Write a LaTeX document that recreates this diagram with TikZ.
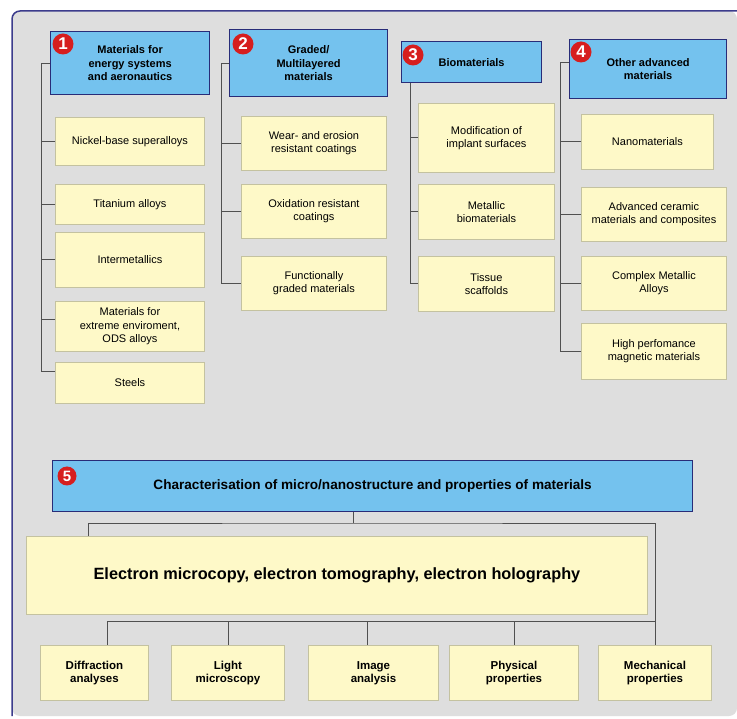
\documentclass[tikz,border=0pt]{standalone}
\usepackage{fontspec}
\setmainfont{Liberation Sans}
\usepackage{tikz}
\usetikzlibrary{positioning}
\definecolor{headblue}{RGB}{116,194,238}
\definecolor{headedge}{RGB}{40,44,120}
\definecolor{leafyellow}{RGB}{254,249,200}
\definecolor{leafedge}{RGB}{196,194,160}
\definecolor{framegray}{RGB}{222,222,222}
\definecolor{framenavy}{RGB}{60,60,140}
\definecolor{badgered}{RGB}{214,30,30}
\definecolor{linegray}{RGB}{80,80,80}

\begin{document}
\begin{tikzpicture}[x=1pt,y=-1pt,
  head/.style={draw=headedge,line width=1.2pt,fill=headblue,anchor=north west,align=center,inner sep=2pt,font=\fontsize{11}{13.5}\selectfont\bfseries},
  leaf/.style={draw=leafedge,line width=0.9pt,fill=leafyellow,anchor=north west,align=center,inner sep=2pt,font=\fontsize{11}{13.3}\selectfont},
  tool/.style={leaf,font=\fontsize{11.5}{13}\selectfont\bfseries},
  badge/.style={circle,fill=badgered,text=white,inner sep=0pt,minimum size=21pt,font=\fontsize{17}{17}\selectfont\bfseries},
  branch/.style={draw=linegray,line width=0.9pt}]
\useasboundingbox (0,0) rectangle (737,719);
\fill[white] (0,0) rectangle (737,719);
\fill[framegray,rounded corners=8pt] (12,11) rectangle (737,716);
\draw[framenavy,line width=1.5pt,rounded corners=8pt] (12,716) -- (12,11) -- (737,11);

\node[head,minimum width=159pt,minimum height=63pt] (h1) at (50,31) {Materials for\\energy systems\\and aeronautics};
\node[head,minimum width=158pt,minimum height=67pt] (h2) at (229,29) {Graded/\\Multilayered\\materials};
\node[head,minimum width=140pt,minimum height=41pt] (h3) at (401,41) {Biomaterials};
\node[head,minimum width=157pt,minimum height=59pt] (h4) at (569,39) {Other advanced\\materials};
\node[badge] (b1) at (63,44) {1};
\node[badge] (b2) at (243,44) {2};
\node[badge] (b3) at (413,55) {3};
\node[badge] (b4) at (581,52) {4};

\node[leaf,minimum width=149pt,minimum height=48pt] (n11) at (55,117) {Nickel-base superalloys};
\node[leaf,minimum width=149pt,minimum height=40pt] (n12) at (55,184) {Titanium alloys};
\node[leaf,minimum width=149pt,minimum height=55pt] (n13) at (55,232) {Intermetallics};
\node[leaf,minimum width=149pt,minimum height=50pt] (n14) at (55,301) {Materials for\\extreme enviroment,\\ODS alloys};
\node[leaf,minimum width=149pt,minimum height=41pt] (n15) at (55,362) {Steels};

\node[leaf,minimum width=145pt,minimum height=54pt] (n21) at (241,116) {Wear- and erosion\\resistant coatings};
\node[leaf,minimum width=145pt,minimum height=54pt] (n22) at (241,184) {Oxidation resistant\\coatings};
\node[leaf,minimum width=145pt,minimum height=54pt] (n23) at (241,256) {Functionally\\graded materials};

\node[leaf,minimum width=136pt,minimum height=69pt] (n31) at (418,103) {Modification of\\implant surfaces};
\node[leaf,minimum width=136pt,minimum height=55pt] (n32) at (418,184) {Metallic\\biomaterials};
\node[leaf,minimum width=136pt,minimum height=55pt] (n33) at (418,256) {Tissue\\scaffolds};

\node[leaf,minimum width=132pt,minimum height=55pt] (n41) at (581,114) {Nanomaterials};
\node[leaf,minimum width=145pt,minimum height=54pt] (n42) at (581,187) {Advanced ceramic\\materials and composites};
\node[leaf,minimum width=145pt,minimum height=54pt] (n43) at (581,256) {Complex Metallic\\Alloys};
\node[leaf,minimum width=145pt,minimum height=56pt] (n44) at (581,323) {High perfomance\\magnetic materials};

\draw[branch] (h1.west) -- ++(-9,0) |- ([yshift=11pt]n15.west);
\foreach \n in {n11,n12,n13} \draw[branch] (\n.west) -- ++(-14,0);
\draw[branch] ([yshift=7pt]n14.west) -- ++(-14,0);

\draw[branch] (h2.west) -- ++(-8,0) |- (n23.west);
\foreach \n in {n21,n22} \draw[branch] (\n.west) -- ++(-20,0);

\draw[branch] ([xshift=9pt]h3.south west) |- (n33.west);
\foreach \n in {n31,n32} \draw[branch] (\n.west) -- ++(-8,0);

\draw[branch] ([yshift=7pt]h4.west) -- ++(-9,0) |- (n44.west);
\foreach \n in {n41,n42,n43} \draw[branch] (\n.west) -- ++(-21,0);

\node[head,minimum width=640pt,minimum height=51pt,font=\fontsize{13.6}{15}\selectfont\bfseries] (h5) at (52,460) {Characterisation of micro/nanostructure and properties of materials};
\node[badge,minimum size=19pt,font=\fontsize{15}{15}\selectfont\bfseries] (b5) at (67,476) {5};
\node[leaf,minimum width=621pt,minimum height=78pt,font=\fontsize{16.3}{18}\selectfont\bfseries] (big) at (26,536) {Electron microcopy, electron tomography, electron holography};

\node[tool,minimum width=108pt,minimum height=55pt] (d1) at (40,645) {Diffraction\\analyses};
\node[tool,minimum width=113pt,minimum height=55pt] (d2) at (171,645) {Light\\microscopy};
\node[tool,minimum width=130pt,minimum height=55pt] (d3) at (308,645) {Image\\analysis};
\node[tool,minimum width=129pt,minimum height=55pt] (d4) at (449,645) {Physical\\properties};
\node[tool,minimum width=113pt,minimum height=55pt] (d5) at (598,645) {Mechanical\\properties};

\coordinate (top) at (353,523);
\coordinate (bus) at (107,621);
\draw[branch] (h5.south -| top) -- (top);
\draw[branch] ([xshift=62pt]big.north west) |- (top) -| (d5.north);
\draw[branch] (d5.north |- bus) -- (bus) -- (bus |- d1.north);
\foreach \n in {d2,d4} \draw[branch] (\n.north) -- (\n.north |- bus);
\draw[branch] ([xshift=-6pt]d3.north) -- ++(0,-24);
\end{tikzpicture}
\end{document}
